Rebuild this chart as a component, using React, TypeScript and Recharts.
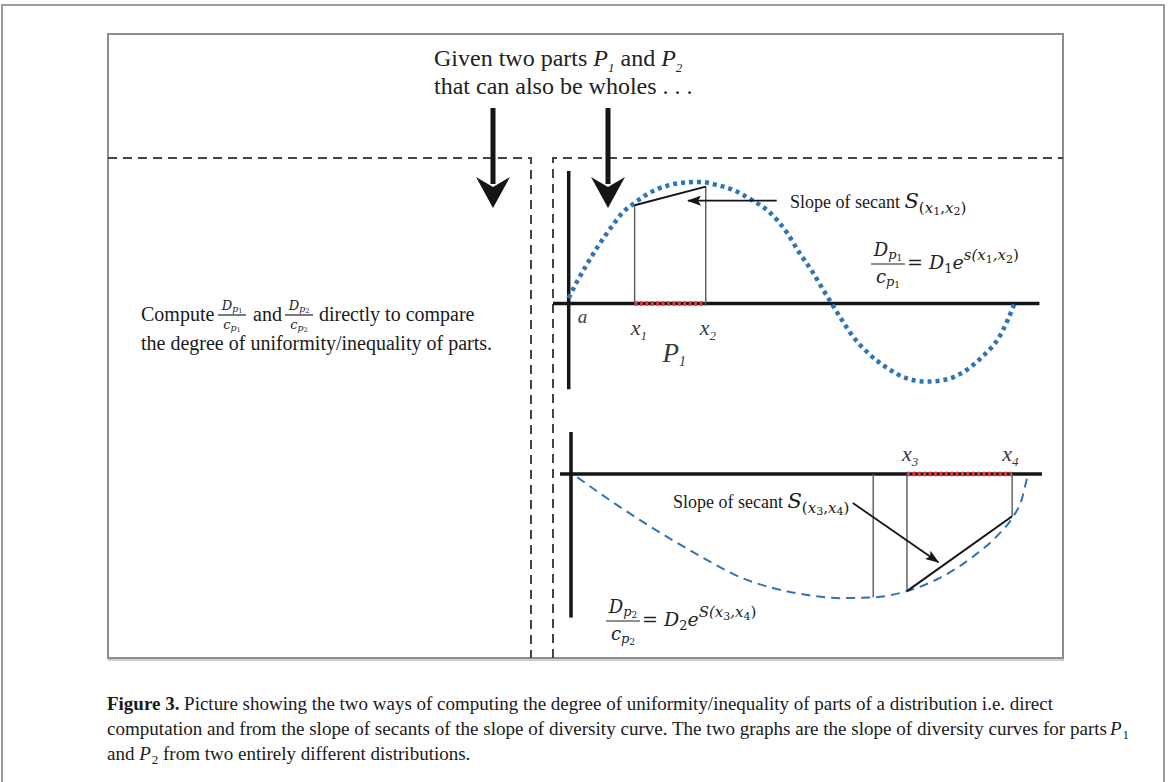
import React from 'react';
import { LineChart, Line, XAxis, YAxis, ReferenceDot } from 'recharts';

// upper graph (part P1): slope of diversity curve
const upperCurve = [
  { x: 0, y: 0.35 }, { x: 0.5, y: 1.35 }, { x: 1.15, y: 2.5 }, { x: 1.85, y: 3.65 },
  { x: 2.75, y: 4.95 }, { x: 3.45, y: 5.85 }, { x: 4.2, y: 6.45 }, { x: 5.15, y: 7.1 },
  { x: 6.25, y: 7.55 }, { x: 7.25, y: 7.75 }, { x: 8.35, y: 7.8 }, { x: 9.45, y: 7.6 },
  { x: 10.45, y: 7.3 }, { x: 11.65, y: 6.65 }, { x: 12.8, y: 5.85 }, { x: 13.9, y: 4.55 },
  { x: 14.7, y: 3.25 }, { x: 15.55, y: 2.0 }, { x: 16.2, y: 0.9 }, { x: 16.75, y: 0 },
  { x: 17.4, y: -1.05 }, { x: 18.1, y: -2.1 }, { x: 19.05, y: -3.15 }, { x: 20.25, y: -4.1 },
  { x: 21.55, y: -4.8 }, { x: 22.8, y: -5.0 }, { x: 24.1, y: -4.85 }, { x: 25.35, y: -4.25 },
  { x: 26.35, y: -3.4 }, { x: 27.45, y: -2.1 }, { x: 28.4, y: 0 },
];
const x1 = 4.2;
const x2 = 8.73;
const upperSecant = [{ x: x1, y: 6.3 }, { x: x2, y: 7.5 }];
const upperPointer = [{ x: 13.25, y: 6.6 }, { x: 7.6, y: 6.6 }];
const upperXDomain = [-1, 30];
const upperYDomain = [-5.5, 8.5];

// lower graph (part P2)
const lowerCurve = [
  { x: 0.4, y: -0.2 }, { x: 2.3, y: -1.55 }, { x: 4.4, y: -2.95 }, { x: 6.5, y: -4.25 },
  { x: 8.65, y: -5.5 }, { x: 10.75, y: -6.6 }, { x: 12.85, y: -7.3 }, { x: 15.05, y: -7.75 },
  { x: 17.15, y: -7.95 }, { x: 19.25, y: -7.9 }, { x: 21.4, y: -7.5 }, { x: 23.5, y: -6.65 },
  { x: 25.6, y: -5.3 }, { x: 27.3, y: -3.8 }, { x: 28.15, y: -2.75 }, { x: 28.7, y: -1.65 },
  { x: 29.05, y: -0.25 },
];
const x3 = 21.4;
const x4 = 28.1;
const lowerSecant = [{ x: x3, y: -7.5 }, { x: x4, y: -2.7 }];
const lowerExtraDrop = { x: 19.25, y: -7.9 };
const lowerPointer = [{ x: 17.95, y: -1.85 }, { x: 23.4, y: -5.65 }];
const lowerXDomain = [-0.7, 30];
const lowerYDomain = [-9.2, 2.7];

const PX_X = 15.7;
const PX_Y = 15.6;
const PAD = 20;

const SERIF = '"Liberation Serif", "Times New Roman", serif';
const MATH = '"DejaVu Serif", serif';
const BLUE = '#2e74b8';
const RED = '#e5343a';
const INK = '#151515';

const seg = (key: string, data: any[], stroke: string, width: number, extra: any = {}) => (
  <Line
    key={key}
    data={data}
    dataKey="y"
    type="linear"
    stroke={stroke}
    strokeWidth={width}
    dot={false}
    activeDot={false}
    legendType="none"
    isAnimationActive={false}
    {...extra}
  />
);

const tag = (key: string, x: number, y: number, node: React.ReactNode) => (
  <ReferenceDot
    key={key}
    x={x}
    y={y}
    r={1}
    ifOverflow="visible"
    shape={(p: any) => <g transform={`translate(${p.cx},${p.cy})`}>{node}</g>}
  />
);

const lbl = (size: number) => ({
  fontFamily: SERIF,
  fontStyle: 'italic' as const,
  fontSize: size,
  fill: '#3a3a3a',
});

function Graph({ left, top, xDomain, yDomain, children }: any) {
  const w = (xDomain[1] - xDomain[0]) * PX_X + 2 * PAD;
  const h = (yDomain[1] - yDomain[0]) * PX_Y + 2 * PAD;
  return (
    <div style={{ position: 'absolute', left: left - PAD, top: top - PAD }}>
      <LineChart width={w} height={h} margin={{ top: PAD, right: PAD, bottom: PAD, left: PAD }}>
        <XAxis type="number" dataKey="x" domain={xDomain} allowDataOverflow hide />
        <YAxis type="number" dataKey="y" domain={yDomain} allowDataOverflow hide />
        {children}
      </LineChart>
    </div>
  );
}

function Frac({ cx, bar, w, size, bottom }: any) {
  return (
    <g fontFamily={MATH} fontStyle="italic" fill="#222">
      <text x={cx} y={bar - size * 0.42} textAnchor="middle" fontSize={size}>
        D
        <tspan dy={size * 0.16} fontSize={size * 0.72}>p</tspan>
        <tspan dy={size * 0.08} fontSize={size * 0.5} fontStyle="normal">{bottom}</tspan>
      </text>
      <line x1={cx - w / 2} x2={cx + w / 2} y1={bar} y2={bar} stroke="#222" strokeWidth={1.2} />
      <text x={cx} y={bar + size * 1.05} textAnchor="middle" fontSize={size}>
        c
        <tspan dy={size * 0.18} fontSize={size * 0.72}>p</tspan>
        <tspan dy={size * 0.1} fontSize={size * 0.5} fontStyle="normal">{bottom}</tspan>
      </text>
    </g>
  );
}

function Rhs({ x, y, d, s, a, b }: any) {
  return (
    <text x={x} y={y} fontFamily={MATH} fontSize={19} fill="#222">
      <tspan>{'=  '}</tspan>
      <tspan fontStyle="italic">D</tspan>
      <tspan dy={4} fontSize={13}>{d}</tspan>
      <tspan dy={-4} fontStyle="italic">e</tspan>
      <tspan dy={-9} fontSize={15} fontStyle="italic">{s}(x</tspan>
      <tspan dy={3} fontSize={11}>{a}</tspan>
      <tspan dy={-3} fontSize={15} fontStyle="italic">,x</tspan>
      <tspan dy={3} fontSize={11}>{b}</tspan>
      <tspan dy={-3} fontSize={15}>)</tspan>
    </text>
  );
}

function Slope({ x, y, a, b }: any) {
  return (
    <text x={x} y={y} fontFamily={SERIF} fontSize={18} fill="#1a1a1a">
      {'Slope of secant '}
      <tspan fontFamily={MATH} fontStyle="italic" fontSize={21}>S</tspan>
      <tspan fontFamily={MATH} dy={5} fontSize={15}>(</tspan>
      <tspan fontFamily={MATH} fontStyle="italic" fontSize={15}>x</tspan>
      <tspan fontFamily={MATH} dy={2} fontSize={11}>{a}</tspan>
      <tspan fontFamily={MATH} dy={-2} fontSize={15}>,</tspan>
      <tspan fontFamily={MATH} fontStyle="italic" fontSize={15}>x</tspan>
      <tspan fontFamily={MATH} dy={2} fontSize={11}>{b}</tspan>
      <tspan fontFamily={MATH} dy={-2} fontSize={15}>)</tspan>
    </text>
  );
}

function BigArrow({ cx }: { cx: number }) {
  return (
    <g fill={INK}>
      <rect x={cx - 2.5} y={108} width={5} height={76} />
      <path d={`M${cx - 17},177 L${cx},187 L${cx + 17},177 L${cx},208 Z`} />
    </g>
  );
}

export default function App() {
  const upper = [
    seg('ax', [{ x: upperXDomain[0], y: 0 }, { x: upperXDomain[1], y: 0 }], INK, 3.5),
    seg('ay', [{ x: 0, y: upperYDomain[0] }, { x: 0, y: upperYDomain[1] }], INK, 3.5),
    ...upperSecant.map((p, i) => seg(`d${i}`, [{ x: p.x, y: 0 }, p], '#5a5a5a', 1.4)),
    seg('curve', upperCurve, BLUE, 4.5, { type: 'monotone', strokeDasharray: '4 4' }),
    seg('part', [{ x: x1, y: 0 }, { x: x2, y: 0 }], RED, 4.5, { strokeDasharray: '3 2.4' }),
    seg('sec', upperSecant, INK, 2),
    seg('ptr', upperPointer, INK, 1.8, { markerEnd: 'url(#tip)' }),
    tag('a', 0, 0, <text x={9} y={19} style={lbl(19)}>a</text>),
    tag('x1', x1, 0, <text x={-4} y={31} style={lbl(22)}>x<tspan dy={5} fontSize={13}>1</tspan></text>),
    tag('x2', x2, 0, <text x={-6} y={31} style={lbl(22)}>x<tspan dy={5} fontSize={13}>2</tspan></text>),
    tag('P1', x1, 0, <text x={28} y={58} style={lbl(27)}>P<tspan dy={4} fontSize={14}>1</tspan></text>),
  ];

  const lower = [
    seg('ax', [{ x: lowerXDomain[0], y: 0 }, { x: lowerXDomain[1], y: 0 }], INK, 3.5),
    seg('ay', [{ x: 0, y: lowerYDomain[0] }, { x: 0, y: lowerYDomain[1] }], INK, 3.5),
    ...[lowerExtraDrop, ...lowerSecant].map((p, i) => seg(`d${i}`, [{ x: p.x, y: 0 }, p], '#5a5a5a', 1.4)),
    seg('curve', lowerCurve, BLUE, 2, { type: 'monotone', strokeDasharray: '9 6' }),
    seg('part', [{ x: x3, y: 0 }, { x: x4, y: 0 }], RED, 4.5, { strokeDasharray: '3 2.4' }),
    seg('sec', lowerSecant, INK, 2),
    seg('ptr', lowerPointer, INK, 1.8, { markerEnd: 'url(#tip)' }),
    tag('x3', x3, 0, <text x={-5} y={-13} style={lbl(22)}>x<tspan dy={5} fontSize={13}>3</tspan></text>),
    tag('x4', x4, 0, <text x={-10} y={-13} style={lbl(22)}>x<tspan dy={5} fontSize={13}>4</tspan></text>),
  ];

  return (
    <div style={{ position: 'absolute', left: 0, top: 0, width: 1170, height: 782, background: '#fff', overflow: 'hidden' }}>
      <svg width={1170} height={782} style={{ position: 'absolute', left: 0, top: 0 }}>
        <defs>
          <marker id="tip" viewBox="0 0 14 10" markerUnits="userSpaceOnUse" markerWidth={14} markerHeight={10} refX={13} refY={5} orient="auto">
            <path d="M0,0 L14,5 L0,10 L3,5 Z" fill={INK} />
          </marker>
        </defs>
        <path d="M2,790 L2,5 L1164,5 L1164,790" fill="none" stroke="#9c9c9c" strokeWidth={2} />
        <rect x={108} y={34} width={955} height={624} fill="none" stroke="#8e8e8e" strokeWidth={2} />
        <line x1={108} x2={1064} y1={660} y2={660} stroke="#cfcfcf" strokeWidth={2} />
        <path d="M108,158 H531 V658 M553,658 V158 H1063" fill="none" stroke="#444" strokeWidth={2} strokeDasharray="9 6" />
        <BigArrow cx={493} />
        <BigArrow cx={608} />

        <g fontFamily={SERIF} fontSize={24} fill="#222">
          <text x={434} y={66}>
            {'Given two parts '}
            <tspan fontStyle="italic">P</tspan>
            <tspan dy={6} fontSize={13} fontStyle="italic">1</tspan>
            <tspan dy={-6}>{' and '}</tspan>
            <tspan fontStyle="italic">P</tspan>
            <tspan dy={6} fontSize={13} fontStyle="italic">2</tspan>
          </text>
          <text x={434} y={94}>that can also be wholes . . .</text>
        </g>

        <g fontFamily={SERIF} fontSize={20} fill="#1a1a1a">
          <text x={141} y={321}>Compute</text>
          <text x={253} y={321}>and</text>
          <text x={319} y={321}>directly to compare</text>
          <text x={141} y={350}>the degree of uniformity/inequality of parts.</text>
        </g>
        <Frac cx={232} bar={315} w={28} size={13} bottom="1" />
        <Frac cx={299} bar={315} w={28} size={13} bottom="2" />

        <Slope x={790} y={208} a="1" b="2" />
        <Frac cx={888} bar={264} w={34} size={18} bottom="1" />
        <Rhs x={907} y={269} d="1" s="s" a="1" b="2" />

        <Slope x={673} y={508} a="3" b="4" />
        <Frac cx={623} bar={621} w={34} size={18} bottom="2" />
        <Rhs x={642} y={626} d="2" s="S" a="3" b="4" />

        <g fontFamily={SERIF} fontSize={19} fill="#1a1a1a">
          <text x={107} y={710} textLength={946} lengthAdjust="spacingAndGlyphs">
            <tspan fontWeight="bold">Figure 3.</tspan>
            {' Picture showing the two ways of computing the degree of uniformity/inequality of parts of a distribution i.e. direct'}
          </text>
          <text x={107} y={735} textLength={1000} lengthAdjust="spacingAndGlyphs">
            {'computation and from the slope of secants of the slope of diversity curve. The two graphs are the slope of diversity curves for parts'}
          </text>
          <text x={1110} y={735}>
            <tspan fontStyle="italic">P</tspan>
            <tspan dx={1} dy={4} fontSize={13}>1</tspan>
          </text>
          <text x={107} y={760}>
            {'and '}
            <tspan fontStyle="italic">P</tspan>
            <tspan dx={1} dy={4} fontSize={13}>2</tspan>
            <tspan dy={-4}>{' from two entirely different distributions.'}</tspan>
          </text>
        </g>
      </svg>

      <Graph left={553} top={304 - upperYDomain[1] * PX_Y} xDomain={upperXDomain} yDomain={upperYDomain}>
        {upper}
      </Graph>
      <Graph left={560} top={474 - lowerYDomain[1] * PX_Y} xDomain={lowerXDomain} yDomain={lowerYDomain}>
        {lower}
      </Graph>
    </div>
  );
}
